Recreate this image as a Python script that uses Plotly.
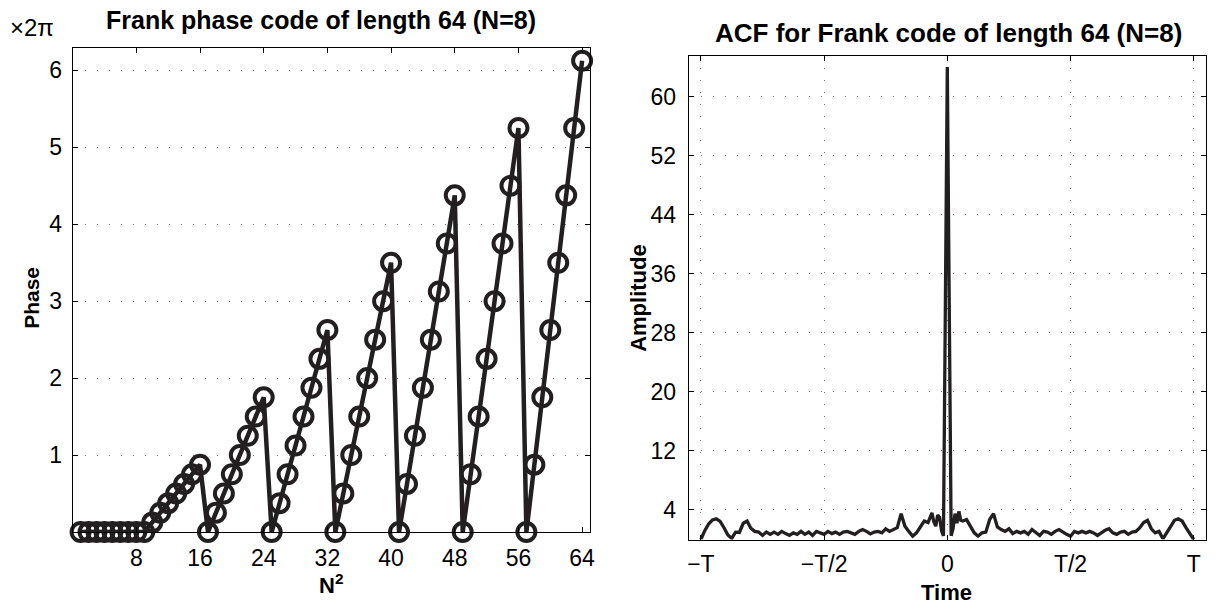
import plotly.graph_objects as go

# ---------------- data ----------------
# Frank code (N=8) phase, in units of 2*pi, for code index 1..64
code_index = list(range(1, 65))
phase = [0, 0, 0, 0, 0, 0, 0, 0,
         0, 0.125, 0.25, 0.375, 0.5, 0.625, 0.75, 0.875,
         0, 0.25, 0.5, 0.75, 1.0, 1.25, 1.5, 1.75,
         0, 0.375, 0.75, 1.125, 1.5, 1.875, 2.25, 2.625,
         0, 0.5, 1.0, 1.5, 2.0, 2.5, 3.0, 3.5,
         0, 0.625, 1.25, 1.875, 2.5, 3.125, 3.75, 4.375,
         0, 0.75, 1.5, 2.25, 3.0, 3.75, 4.5, 5.25,
         0, 0.875, 1.75, 2.625, 3.5, 4.375, 5.25, 6.125]

phase_ticks = [1, 2, 3, 4, 5, 6]
index_ticks = [8, 16, 24, 32, 40, 48, 56, 64]

# ACF magnitude vs. delay (in chips, T = 64 chips)
acf_lag = [-64, -63, -62, -61, -60, -59, -58, -57, -56, -55, -54, -53, -52, -51, -50,
           -49, -48, -47, -46, -45, -44, -43, -42, -41, -40, -39, -38, -37, -36, -35,
           -34, -33, -32, -31, -30, -29, -28, -27, -26, -25, -24, -23, -22, -21, -20,
           -19, -18, -17, -16, -15, -14, -13, -12, -11, -10, -9, -8, -7, -6, -5,
           -4, -3.5, -3, -2.5, -2, -1.5, -1, -0.5, 0, 0.5, 1, 1.5, 2, 2.5, 3, 3.5,
           4, 5, 6, 7, 8, 9, 10, 11, 12, 13, 14, 15, 16, 17, 18, 19, 20,
           21, 22, 23, 24, 25, 26, 27, 28, 29, 30, 31, 32, 33, 34, 35, 36,
           37, 38, 39, 40, 41, 42, 43, 44, 45, 46, 47, 48, 49, 50, 51, 52,
           53, 54, 55, 56, 57, 58, 59, 60, 61, 62, 63, 64]
acf_amp = [0, 1.2, 2.1, 2.65, 2.8, 2.45, 1.6, 0.6, 0.15, 1.0, 0.95, 2.2, 2.5, 1.5, 1.1,
           1.0, 0.55, 1.0, 0.7, 1.0, 0.7, 1.1, 0.8, 0.55, 0.9, 0.7, 1.1, 0.7, 1.0, 0.55,
           1.1, 0.9, 0.7, 1.1, 0.8, 1.0, 0.7, 1.0, 1.1, 0.9, 0.7, 1.1, 1.35, 1.1, 0.75,
           1.0, 1.1, 0.9, 1.45, 1.1, 1.35, 1.6, 3.5, 1.8, 1.1, 0.45, 0.9, 1.7, 2.5, 2.3,
           3.6, 2.4, 1.8, 3.3, 3.0, 1.2, 0.5, 32, 64, 32, 0.5, 1.5, 3.5, 2.2, 3.8, 2.6,
           2.5, 2.7, 1.8, 0.9, 0.45, 0.9, 1.0, 2.7, 3.5, 1.7, 1.35, 1.1, 1.45, 0.8, 1.1, 0.9, 1.1,
           0.7, 1.35, 0.9, 0.55, 1.1, 1.0, 0.7, 1.1, 1.35, 1.0, 0.7, 0.45, 1.1, 0.9, 1.1, 0.9,
           1.1, 0.9, 0.55, 0.9, 1.25, 1.45, 0.9, 0.7, 1.0, 1.1, 0.7, 1.0, 1.1, 1.6, 2.3, 2.6,
           1.45, 0.9, 1.1, 0.1, 1.0, 1.9, 2.6, 2.8, 2.5, 1.6, 0.7, 0]

amp_ticks = [4, 12, 20, 28, 36, 44, 52, 60]
time_tickvals = [-64, -32, 0, 32, 64]
time_ticktext = ["\u2212T", "\u2212T/2", "0", "T/2", "T"]

# ---------------- figure ----------------
W, H = 1216, 607
ink = "#231f20"
font_family = "Liberation Sans, Arial, sans-serif"


def px_x(p):
    return p / W


def px_y(p):
    return (H - p) / H


fig = go.Figure()

fig.add_trace(go.Scatter(
    x=code_index, y=phase, mode="lines+markers",
    line=dict(color=ink, width=4.5),
    marker=dict(symbol="circle-open", size=18, color=ink, line=dict(width=4, color=ink)),
    cliponaxis=False, xaxis="x", yaxis="y", showlegend=False))

fig.add_trace(go.Scatter(
    x=acf_lag, y=acf_amp, mode="lines",
    line=dict(color=ink, width=3.3),
    xaxis="x2", yaxis="y2", showlegend=False))

grid_common = dict(gridcolor="#777777", gridwidth=1, griddash="1px,11px")
axis_common = dict(showline=True, linecolor="black", linewidth=1, mirror="ticks",
                   ticks="inside", ticklen=5, tickwidth=1, tickcolor="black",
                   zeroline=False,
                   tickfont=dict(family=font_family, size=23, color="black"))

fig.update_layout(
    width=W, height=H,
    margin=dict(l=0, r=0, t=0, b=0),
    paper_bgcolor="white", plot_bgcolor="white",
    font=dict(family=font_family, color="black"),
    xaxis=dict(domain=[px_x(72), px_x(592)], range=[0, 65], tickvals=index_ticks,
               showgrid=False, anchor="y", ticklabelstandoff=5, **axis_common),
    yaxis=dict(domain=[px_y(532), px_y(48)], range=[0, 6.29], tickvals=phase_ticks,
               showgrid=True, anchor="x", ticklabelstandoff=5, **grid_common, **axis_common),
    xaxis2=dict(domain=[px_x(691), px_x(1211)], range=[-67.2, 67.2],
                tickvals=time_tickvals, ticktext=time_ticktext,
                showgrid=True, anchor="y2", ticklabelstandoff=4, **grid_common, **axis_common),
    yaxis2=dict(domain=[px_y(539.5), px_y(56)], range=[0, 65.5], tickvals=amp_ticks,
                showgrid=True, anchor="x2", ticklabelstandoff=7, **grid_common, **axis_common),
)

ann = [
    dict(text="\u00d72\u03c0", x=px_x(31), y=px_y(27), size=24, angle=0),
    dict(text="<b>Frank phase code of length 64 (N=8)</b>", x=px_x(322), y=px_y(20), size=25, angle=0),
    dict(text="<b>ACF for Frank code of length 64 (N=8)</b>", x=px_x(952), y=px_y(33), size=26, angle=0),
    dict(text="<b>N<sup>2</sup></b>", x=px_x(332), y=px_y(584), size=22, angle=0),
    dict(text="<b>Time</b>", x=px_x(950), y=px_y(592), size=22, angle=0),
    dict(text="<b>Phase</b>", x=px_x(30), y=px_y(298), size=21, angle=-90),
    dict(text="<b>Amplitude</b>", x=px_x(640), y=px_y(298), size=22, angle=-90),
]
for a in ann:
    fig.add_annotation(text=a["text"], x=a["x"], y=a["y"], xref="paper", yref="paper",
                       xanchor="center", yanchor="middle", showarrow=False,
                       textangle=a["angle"],
                       font=dict(family=font_family, size=a["size"], color="black"))

fig.write_html("out.html")
